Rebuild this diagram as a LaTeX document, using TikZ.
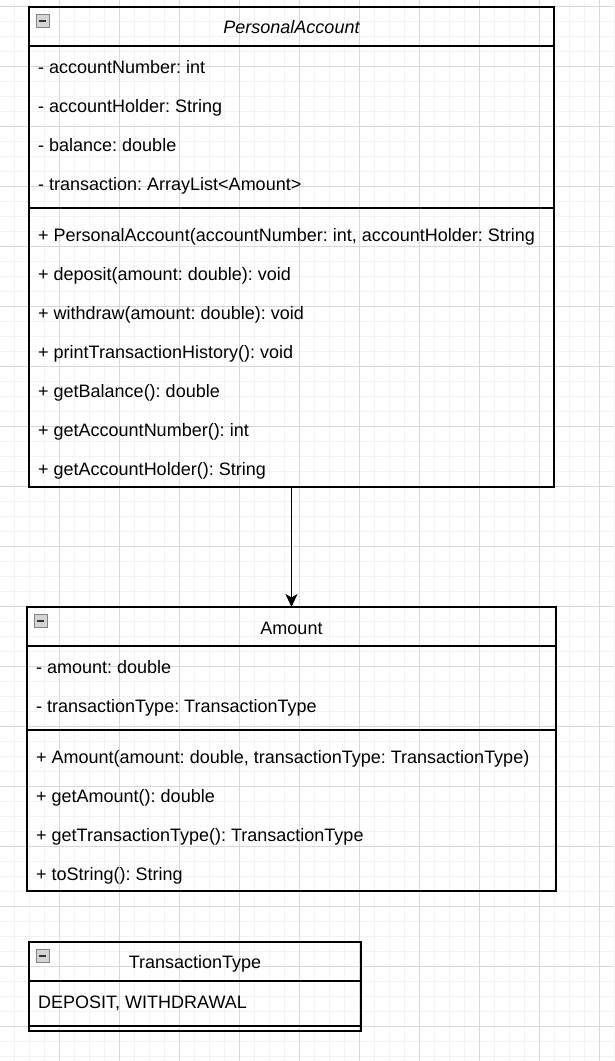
\documentclass[tikz,border=0pt]{standalone}
\usepackage{fontspec}
\setmainfont{Liberation Sans}
\usetikzlibrary{positioning}
\usetikzlibrary{arrows.meta}
\frenchspacing
\definecolor{gridminor}{RGB}{243,243,243}
\definecolor{gridmajor}{RGB}{216,216,216}
\definecolor{iconfill}{RGB}{212,212,212}
\definecolor{iconborder}{RGB}{130,130,130}
\definecolor{iconline}{RGB}{50,50,50}
\tikzset{
    classbox/.style = {rectangle, draw=black, line width=1.5pt, inner sep=0pt, outer sep=0pt},
    sepline/.style = {draw=black, line width=1.5pt},
    classname/.style = {anchor=base, inner sep=0pt, font=\fontsize{18}{22}\selectfont},
    member/.style = {anchor=base west, inner sep=0pt, font=\fontsize{18}{22}\selectfont},
    collapse/.style = {rectangle, draw=iconborder, fill=iconfill, line width=1pt, minimum size=13pt, inner sep=0pt,
        path picture={\draw[line width=2pt,iconline] ([xshift=3pt]path picture bounding box.west) -- ([xshift=-3pt]path picture bounding box.east);}},
    assoc/.style = {-{Stealth[length=13pt,width=12pt,inset=3.5pt]}, line width=1.5pt},
    gridmin/.style = {draw=gridminor, line width=1pt},
    gridmaj/.style = {draw=gridmajor, line width=1pt}
}
\begin{document}
\begin{tikzpicture}[x=1pt,y=-1pt]
\useasboundingbox (0,0) rectangle (614,1061);
% background grid
\foreach \gx in {-1,14,...,614} \draw[gridmin] (\gx,0) -- (\gx,1061);
\foreach \gy in {6.5,21.5,...,1061} \draw[gridmin] (0,\gy) -- (614,\gy);
\foreach \gx in {59,119,...,614} \draw[gridmaj] (\gx,0) -- (\gx,1061);
\foreach \gy in {6.5,66.5,...,1061} \draw[gridmaj] (0,\gy) -- (614,\gy);
%
% PersonalAccount
\node[classbox, minimum width=525pt, minimum height=480pt] (pa) at (291.5,247) {};
\draw[sepline] (29,46) -- (554,46);
\draw[sepline] (29,208) -- (554,208);
\node[collapse] (paicon) at (42.5,20.5) {};
\node[classname] (patitle) at (291.5,33.8) {\itshape PersonalAccount};
\node[member] (pa1) at (38,73.3) {- accountNumber: int};
\node[member] (pa2) at (38,112.3) {- accountHolder: String};
\node[member] (pa3) at (38,151.3) {- balance: double};
\node[member] (pa4) at (38,190.3) {- transaction: ArrayList<Amount>};
\node[member] (pa5) at (38,241.3) {+ PersonalAccount(accountNumber: int, accountHolder: String};
\node[member] (pa6) at (38,280.3) {+ deposit(amount: double): void};
\node[member] (pa7) at (38,319.3) {+ withdraw(amount: double): void};
\node[member] (pa8) at (38,358.3) {+ printTransactionHistory(): void};
\node[member] (pa9) at (38,397.3) {+ getBalance(): double};
\node[member] (pa10) at (38,436.3) {+ getAccountNumber(): int};
\node[member] (pa11) at (38,475.3) {+ getAccountHolder(): String};
%
% Amount
\node[classbox, minimum width=529pt, minimum height=284pt] (am) at (291.5,749) {};
\draw[sepline] (27,646) -- (556,646);
\draw[sepline] (27,730) -- (556,730);
\node[collapse] (amicon) at (40.5,620.5) {};
\node[classname] (amtitle) at (291.5,634.3) {Amount};
\node[member] (am1) at (36,673.3) {- amount: double};
\node[member] (am2) at (36,712.3) {- transactionType: TransactionType};
\node[member] (am3) at (36,763.3) {+ Amount(amount: double, transactionType: TransactionType)};
\node[member] (am4) at (36,802.3) {+ getAmount(): double};
\node[member] (am5) at (36,841.3) {+ getTransactionType(): TransactionType};
\node[member] (am6) at (36,880.3) {+ toString(): String};
%
% TransactionType
\node[classbox, minimum width=332pt, minimum height=89pt] (tt) at (195,986.5) {};
\draw[sepline] (29,981) -- (361,981);
\draw[sepline] (29,1026) -- (361,1026);
\node[collapse] (tticon) at (42.5,955.5) {};
\node[classname] (tttitle) at (195,968.8) {TransactionType};
\node[member] (tt1) at (38,1008.3) {DEPOSIT, WITHDRAWAL};
%
\draw[assoc] (pa.south) -- (am.north);

\end{tikzpicture}
\end{document}
